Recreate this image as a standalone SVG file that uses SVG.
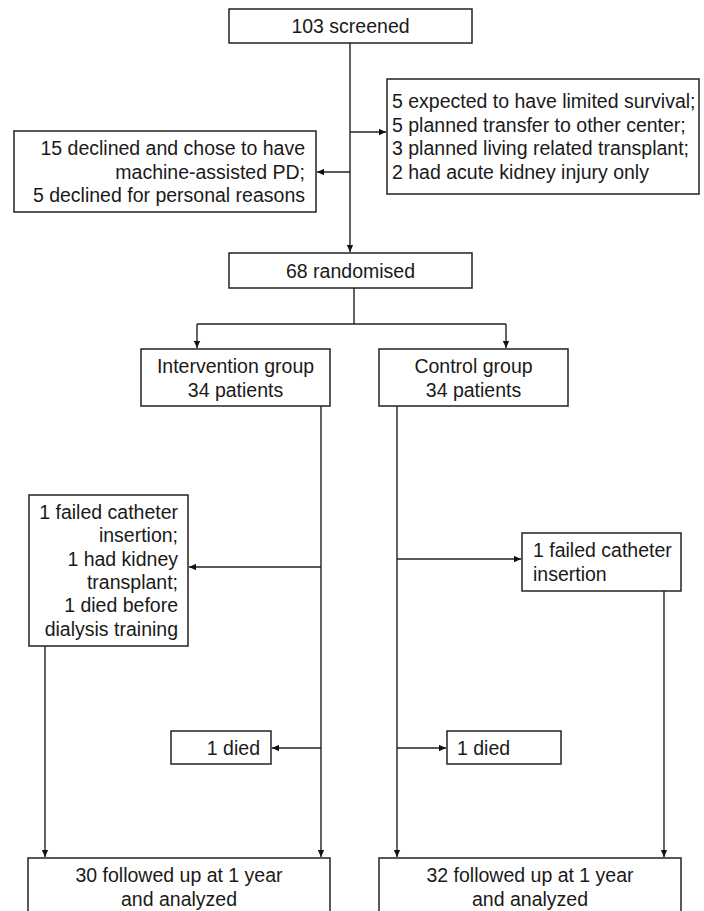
<svg xmlns="http://www.w3.org/2000/svg" width="704" height="911" viewBox="0 0 704 911">
<style>
.box{fill:#fff;stroke:#222;stroke-width:1.5}
text{font-family:"Liberation Sans",Arial,sans-serif;font-size:19.5px;fill:#1a1a1a}
.c{text-anchor:middle}
.r{text-anchor:end}
.ln{fill:none;stroke:#222;stroke-width:1.4}
</style>
<defs>
<marker id="ah" viewBox="0 0 10 10" refX="10" refY="5" markerWidth="7" markerHeight="7" markerUnits="userSpaceOnUse" orient="auto">
<path d="M0,0.5 L10,5 L0,9.5 z" fill="#111"/>
</marker>
</defs>
<rect width="704" height="911" fill="#fff"/>
<g id="connectors">
<path class="ln" d="M350,43 V252" marker-end="url(#ah)"/>
<path class="ln" d="M350,132 H386" marker-end="url(#ah)"/>
<path class="ln" d="M350,172 H317" marker-end="url(#ah)"/>
<path class="ln" d="M354,288 V324 M197,324 H506"/>
<path class="ln" d="M197,324 V348" marker-end="url(#ah)"/>
<path class="ln" d="M506,324 V348" marker-end="url(#ah)"/>
<path class="ln" d="M321,406 V857" marker-end="url(#ah)"/>
<path class="ln" d="M321,567 H189" marker-end="url(#ah)"/>
<path class="ln" d="M321,748 H272" marker-end="url(#ah)"/>
<path class="ln" d="M45,646 V857" marker-end="url(#ah)"/>
<path class="ln" d="M397,406 V857" marker-end="url(#ah)"/>
<path class="ln" d="M397,559 H521" marker-end="url(#ah)"/>
<path class="ln" d="M397,748 H446" marker-end="url(#ah)"/>
<path class="ln" d="M664,591 V857" marker-end="url(#ah)"/>
</g>
<g id="screened">
<rect class="box" x="229" y="9" width="243" height="34"/>
<text class="c" x="350.5" y="33">103 screened</text>
</g>
<g id="excluded-left">
<rect class="box" x="14" y="131" width="302" height="81"/>
<text class="r" x="305" y="155">15 declined and chose to have</text>
<text class="r" x="305" y="178.5">machine-assisted PD;</text>
<text class="r" x="305" y="202">5 declined for personal reasons</text>
</g>
<g id="excluded-right">
<rect class="box" x="387" y="79" width="312" height="115"/>
<text x="392" y="108">5 expected to have limited survival;</text>
<text x="392" y="131.5">5 planned transfer to other center;</text>
<text x="392" y="155">3 planned living related transplant;</text>
<text x="392" y="178.5">2 had acute kidney injury only</text>
</g>
<g id="randomised">
<rect class="box" x="229" y="253" width="243" height="35"/>
<text class="c" x="350.5" y="277.5">68 randomised</text>
</g>
<g id="intervention">
<rect class="box" x="141" y="349" width="189" height="57"/>
<text class="c" x="235.5" y="373">Intervention group</text>
<text class="c" x="235.5" y="396.5">34 patients</text>
</g>
<g id="control">
<rect class="box" x="379" y="349" width="189" height="57"/>
<text class="c" x="473.5" y="373">Control group</text>
<text class="c" x="473.5" y="396.5">34 patients</text>
</g>
<g id="int-lost">
<rect class="box" x="29" y="495" width="159" height="151"/>
<text class="r" x="178" y="519">1 failed catheter</text>
<text class="r" x="178" y="542.3">insertion;</text>
<text class="r" x="178" y="565.6">1 had kidney</text>
<text class="r" x="178" y="588.9">transplant;</text>
<text class="r" x="178" y="612.2">1 died before</text>
<text class="r" x="178" y="635.5">dialysis training</text>
</g>
<g id="ctl-lost">
<rect class="box" x="522" y="533" width="159" height="58"/>
<text x="533" y="557">1 failed catheter</text>
<text x="533" y="580.5">insertion</text>
</g>
<g id="int-died">
<rect class="box" x="171" y="731" width="100" height="33"/>
<text class="r" x="260" y="754.5">1 died</text>
</g>
<g id="ctl-died">
<rect class="box" x="447" y="731" width="114" height="33"/>
<text x="457" y="754.5">1 died</text>
</g>
<g id="int-final">
<rect class="box" x="28" y="858" width="302" height="70"/>
<text class="c" x="179" y="882">30 followed up at 1 year</text>
<text class="c" x="179" y="905.5">and analyzed</text>
</g>
<g id="ctl-final">
<rect class="box" x="379" y="858" width="302" height="70"/>
<text class="c" x="530" y="882">32 followed up at 1 year</text>
<text class="c" x="530" y="905.5">and analyzed</text>
</g>
</svg>
